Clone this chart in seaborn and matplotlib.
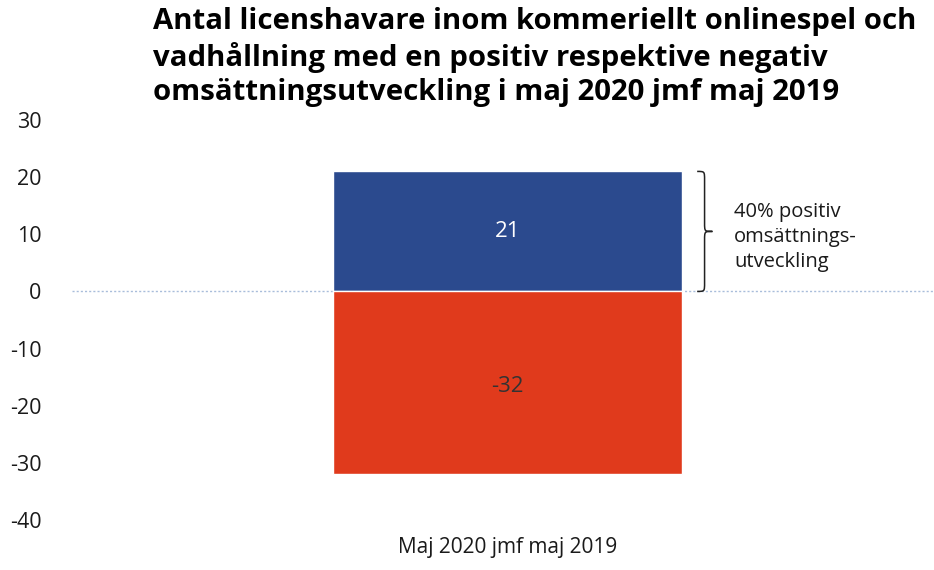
import matplotlib
matplotlib.use("Agg")
import matplotlib.pyplot as plt
import seaborn as sns
import pandas as pd
from matplotlib.path import Path
from matplotlib.patches import PathPatch

categories = ["Maj 2020 jmf maj 2019"]
series = ["Positiv", "Negativ"]
values = [21, -32]
value_labels = ["21", "-32"]
yticks = [-40, -30, -20, -10, 0, 10, 20, 30]
title = ("Antal licenshavare inom kommeriellt onlinespel och\n"
         "vadhållning med en positiv respektive negativ\n"
         "omsättningsutveckling i maj 2020 jmf maj 2019")
note = "40% positiv\nomsättnings-\nutveckling"

sns.set_theme(style="white")
plt.rcParams["font.family"] = ["Open Sans", "DejaVu Sans"]

df = pd.DataFrame({"cat": categories * len(series), "serie": series, "val": values})
colors = {"Positiv": "#2b4a8e", "Negativ": "#e03a1c"}

fig = plt.figure(figsize=(9.34, 5.70), dpi=100)
ax = fig.add_axes([72 / 934, 1 - 520 / 570, 1 - 72 / 934, (520 - 120) / 570])

sns.barplot(data=df, x="cat", y="val", hue="serie", palette=colors, dodge=False,
            width=0.8, saturation=1, edgecolor="white", linewidth=1,
            legend=False, ax=ax)

ax.axhline(0, color="#a9bddb", linestyle=(0, (1.5, 1.5)), linewidth=1, zorder=0)

ax.set_ylim(-40, 30)
ax.set_xlim(-435.5 / 436, 426.5 / 436)
ax.set_yticks(yticks)
ax.set_yticklabels([str(t) for t in yticks], fontsize=15.5, color="#1a1a1a")
ax.tick_params(axis="y", length=0, pad=22)
ax.tick_params(axis="x", length=0, pad=12, labelsize=15, labelcolor="#1a1a1a")
ax.set_xlabel("")
ax.set_ylabel("")
for s in ax.spines.values():
    s.set_visible(False)

# value labels
ax.text(0, values[0] / 2, value_labels[0], ha="center", va="center",
        color="white", fontsize=16)
ax.text(0, values[1] / 2 - 0.6, value_labels[1], ha="center", va="center",
        color="#333333", fontsize=16)

# brace
x0, xm, xt = 0.435, 0.452, 0.47
top, bot = values[0], 0
mid = (top + bot) / 2
verts = [
    (x0, top), (xm, top), (xm, top), (xm, top - 1.5),
    (xm, mid + 1.5),
    (xm, mid), (xm, mid), (xt, mid),
    (xm, mid), (xm, mid), (xm, mid - 1.5),
    (xm, bot + 1.5),
    (xm, bot), (xm, bot), (x0, bot),
]
codes = [Path.MOVETO, Path.CURVE4, Path.CURVE4, Path.CURVE4,
         Path.LINETO,
         Path.CURVE4, Path.CURVE4, Path.CURVE4,
         Path.CURVE4, Path.CURVE4, Path.CURVE4,
         Path.LINETO,
         Path.CURVE4, Path.CURVE4, Path.CURVE4]
ax.add_patch(PathPatch(Path(verts, codes), facecolor="none", edgecolor="#222222",
                       linewidth=1.1, clip_on=False))

ax.text(0.52, 9.6, note, ha="left", va="center", fontsize=14.5,
        color="#1a1a1a", linespacing=1.33)

fig.text(153 / 934, 1 - 7 / 570, title, ha="left", va="top", fontsize=21.2,
         fontweight="bold", color="black", linespacing=1.24)

fig.savefig("out.png", dpi=100)
